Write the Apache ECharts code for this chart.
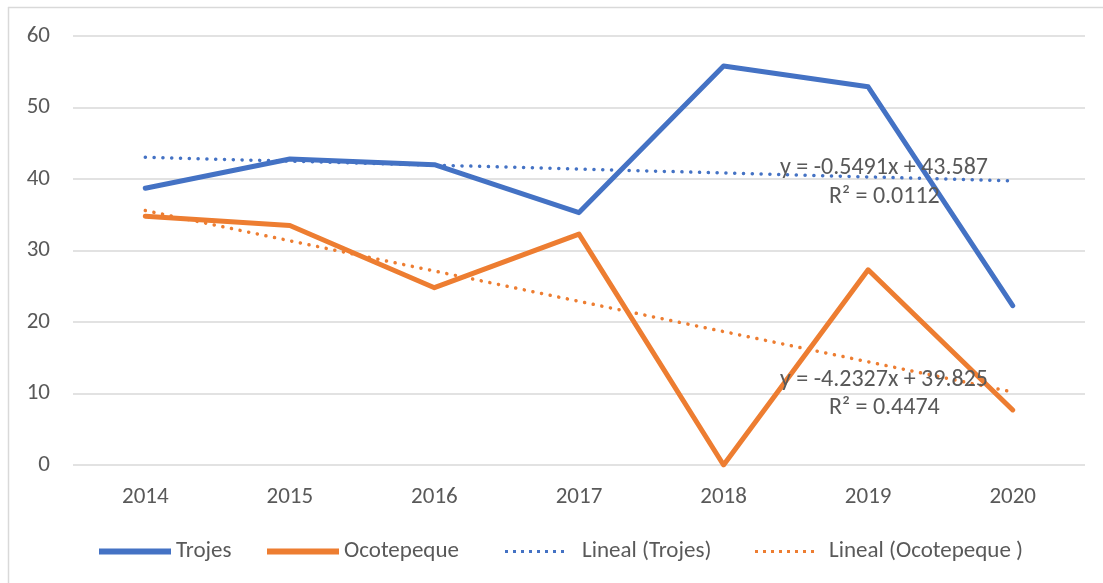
<!DOCTYPE html>
<html>
<head>
<meta charset="utf-8">
<script src="https://cdn.jsdelivr.net/npm/echarts@6/dist/echarts.min.js"></script>
<style>
  html, body { margin: 0; padding: 0; background: #fff; }
  #chart { width: 1103px; height: 583px; }
</style>
</head>
<body>
<div id="chart"></div>
<script>
// datos
const years = ['2014', '2015', '2016', '2017', '2018', '2019', '2020']
const trojes = [38.7, 42.8, 42.0, 35.3, 55.8, 52.9, 22.3]
const ocotepeque = [34.8, 33.5, 24.8, 32.3, 0, 27.3, 7.7]
// lineas de tendencia (Lineal) tal como se ven
const linealTrojes = [43.04, 42.49, 41.94, 41.39, 40.84, 40.29, 39.74]
const linealOcotepeque = [35.59, 31.36, 27.13, 22.89, 18.66, 14.43, 10.20]

const blue = '#4472C4'
const orange = '#ED7D31'
const grey = '#595959'
const font = 'Carlito, Calibri, Lato, "Open Sans", sans-serif'
const fs = 23

const solidIcon = 'path://M0,0 L72,0 L72,6 L0,6 Z'
// puntos para la leyenda punteada
let dots = ''
for (let i = 0; i < 8; i++) {
  dots += 'M' + (i * 8) + ',0 h3 v3 h-3 Z '
}
const dotIcon = 'path://' + dots

function legendItem (name, left, icon, w, h, pad) {
  return {
    left: left,
    top: 540,
    itemWidth: w,
    itemHeight: h,
    itemGap: 0,
    padding: 0,
    textStyle: { color: grey, fontSize: fs, fontFamily: font, padding: [0, 0, 0, pad] },
    data: [{ name: name, icon: icon }]
  }
}

let chart = echarts.init(document.getElementById('chart'))
let option = {
  animation: false,
  textStyle: { fontFamily: font },
  grid: {
    left: 73,
    right: 18,
    top: 36,
    bottom: 118,
    containLabel: false
  },
  legend: [
    legendItem('Trojes', 99, solidIcon, 72, 6, 0),
    legendItem('Ocotepeque', 267, solidIcon, 72, 6, 0),
    legendItem('Lineal (Trojes)', 505, dotIcon, 59, 3.5, 13),
    legendItem('Lineal (Ocotepeque )', 755, dotIcon, 59, 3.5, 10)
  ],
  xAxis: {
    type: 'category',
    data: years,
    boundaryGap: true,
    axisLine: { show: false },
    axisTick: { show: false },
    axisLabel: { color: grey, fontSize: fs, margin: 21 }
  },
  yAxis: {
    type: 'value',
    min: 0,
    max: 60,
    interval: 10,
    axisLine: { show: false },
    axisTick: { show: false },
    axisLabel: { color: grey, fontSize: fs, margin: 23 },
    splitLine: { lineStyle: { color: '#d9d9d9', width: 1.5 } }
  },
  series: [
    {
      name: 'Trojes',
      type: 'line',
      data: trojes,
      symbol: 'none',
      z: 3,
      itemStyle: { color: blue },
      lineStyle: { color: blue, width: 5, cap: 'round', join: 'round' }
    },
    {
      name: 'Ocotepeque',
      type: 'line',
      data: ocotepeque,
      symbol: 'none',
      z: 3,
      itemStyle: { color: orange },
      lineStyle: { color: orange, width: 5, cap: 'round', join: 'round' }
    },
    {
      name: 'Lineal (Trojes)',
      type: 'line',
      data: linealTrojes,
      symbol: 'none',
      z: 2,
      itemStyle: { color: blue },
      lineStyle: { color: blue, width: 3.5, type: [0.1, 8.7], cap: 'round' }
    },
    {
      name: 'Lineal (Ocotepeque )',
      type: 'line',
      data: linealOcotepeque,
      symbol: 'none',
      z: 2,
      itemStyle: { color: orange },
      lineStyle: { color: orange, width: 3.5, type: [0.1, 8.7], cap: 'round' }
    }
  ],
  graphic: [
    { type: 'line', shape: { x1: 8, y1: 7.5, x2: 1103, y2: 7.5 }, style: { stroke: '#d9d9d9', lineWidth: 1.5 } },
    { type: 'line', shape: { x1: 8.5, y1: 7, x2: 8.5, y2: 583 }, style: { stroke: '#d9d9d9', lineWidth: 1.5 } },
    {
      type: 'text', left: 780, top: 156, z: 10,
      style: { text: 'y = -0.5491x + 43.587', fill: grey, font: '24px ' + font }
    },
    {
      type: 'text', left: 829, top: 185, z: 10,
      style: { text: 'R² = 0.0112', fill: grey, font: '24px ' + font }
    },
    {
      type: 'text', left: 780, top: 368, z: 10,
      style: { text: 'y = -4.2327x + 39.825', fill: grey, font: '24px ' + font }
    },
    {
      type: 'text', left: 829, top: 396, z: 10,
      style: { text: 'R² = 0.4474', fill: grey, font: '24px ' + font }
    }
  ]
}
chart.setOption(option)
</script>
</body>
</html>
